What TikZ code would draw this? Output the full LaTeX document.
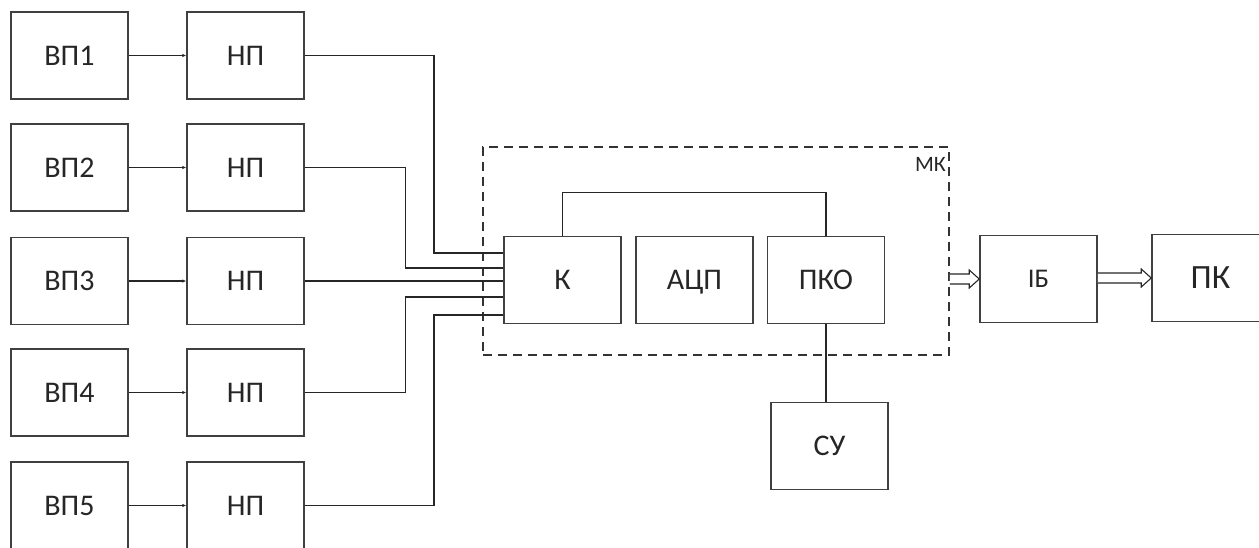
\documentclass[tikz,border=0pt]{standalone}
\usepackage{fontspec}
\setmainfont{Carlito}
\usetikzlibrary{arrows.meta,calc}
\begin{document}
\begin{tikzpicture}[x=1pt,y=-1pt,
  blk/.style={draw=black!75, line width=1.5pt, minimum width=117pt, minimum height=87pt, inner sep=0pt, text height=19pt, text depth=0pt, font=\fontsize{30}{31}\selectfont, text=black!85},
  wire/.style={draw=black!85, line width=1.4pt},
  sarrow/.style={wire, -{Latex[length=4pt,width=3.5pt]}},
  mkbox/.style={draw=black!80, line width=1.5pt, dash pattern=on 9pt off 6pt, minimum width=466pt, minimum height=208pt, inner sep=0pt},
  hollow/.style={draw=black!85, line width=1.1pt, fill=white, line join=miter}]
\useasboundingbox (0,0) rectangle (1259,547);
\clip (0,0) rectangle (1259,547);
% dashed MK frame
\node[mkbox] (MK) at (716,251) {};
\node[anchor=north east, inner sep=0pt, font=\fontsize{22}{24}\selectfont, text=black!85] (MKl) at (946,157) {МК};
% sensors and converters
\foreach \i/\yy in {1/55.5,2/167.5,3/281,4/392.5,5/505.5}{
  \node[blk] (VP\i) at (69.5,\yy) {ВП\i};
  \node[blk] (NP\i) at (245.5,\yy) {НП};
  \draw[sarrow] (VP\i) -- (NP\i);
}
% MK internals
\node[blk] (K) at (562.5,280) {К};
\node[blk] (ADC) at (694.5,280) {АЦП};
\node[blk] (PKO) at (826,280) {ПКО};
\node[blk] (SU) at (829.5,446) {СУ};
\node[blk, font=\fontsize{27}{28}\selectfont, text height=17pt] (IB) at (1038.5,279) {ІБ};
\node[blk, font=\fontsize{34}{35}\selectfont, text height=21.5pt] (PK) at (1210.5,278) {ПК};
% pins on K
\coordinate (k1) at ([yshift=27pt]K.west);
\coordinate (k2) at ([yshift=12pt]K.west);
\coordinate (k3) at (K.west |- NP3.east);
\coordinate (k4) at ([yshift=-17pt]K.west);
\coordinate (k5) at ([yshift=-35pt]K.west);
\coordinate (j1) at (434,253);
\coordinate (j2) at (405.5,268);
\coordinate (j4) at (405.5,297);
\coordinate (j5) at (434,315);
\draw[wire] (NP1.east) -| (j1) -- (k1);
\draw[wire] (NP2.east) -| (j2) -- (k2);
\draw[wire] (NP3.east) -- (k3);
\draw[wire] (NP4.east) -| (j4) -- (k4);
\draw[wire] (NP5.east) -| (j5) -- (k5);
% K to PKO, PKO to SU
\draw[wire] (K.north) -- ++(0,-43) -| (PKO.north);
\draw[wire] (PKO.south) -- (PKO.south |- SU.north);
% hollow arrows
\coordinate (a1s) at (MK.east |- IB.west);
\draw[hollow] let \p1=(a1s), \p2=(IB.west) in
  (\x1,\y2+5) -- (\x2-10,\y2+5) -- (\x2-10,\y2+9) -- (\x2,\y2) -- (\x2-10,\y2-9) -- (\x2-10,\y2-5) -- (\x1,\y2-5);
\draw[hollow] let \p1=(IB.east), \p2=(PK.west) in
  (\x1,\y2+5) -- (\x2-10,\y2+5) -- (\x2-10,\y2+9) -- (\x2,\y2) -- (\x2-10,\y2-9) -- (\x2-10,\y2-5) -- (\x1,\y2-5);
\end{tikzpicture}
\end{document}
